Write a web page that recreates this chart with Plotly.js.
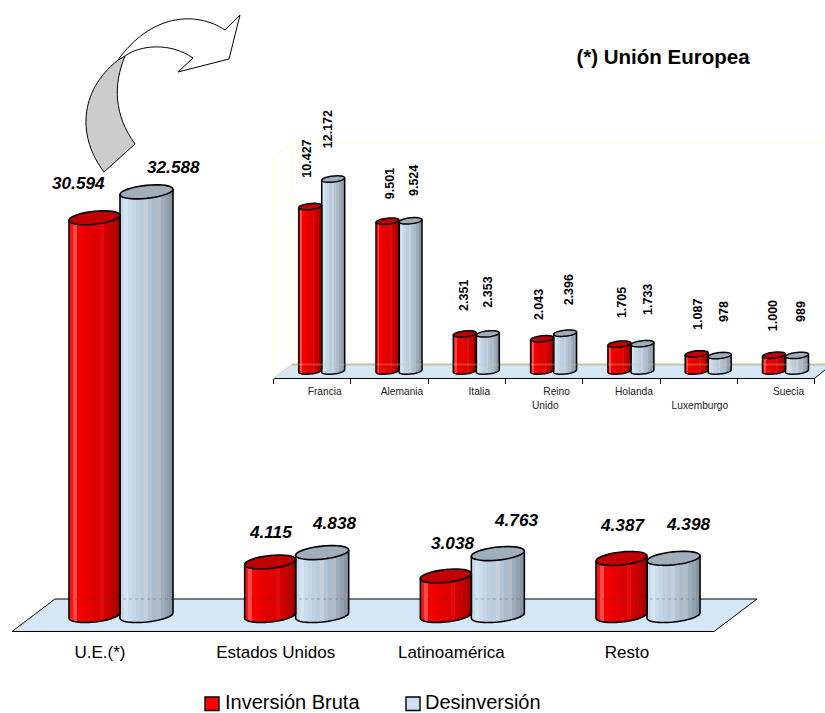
<!DOCTYPE html>
<html><head><meta charset="utf-8">
<script src="https://cdn.plot.ly/plotly-3.0.1.min.js"></script>
<style>html,body{margin:0;padding:0;background:#fff}#chart{width:825px;height:713px}</style>
</head><body><div id="chart"></div>
<script>
// ---- data ----
const regions = ['U.E.(*)','Estados Unidos','Latinoamérica','Resto'];
const regionInversion = [30594,4115,3038,4387];
const regionDesinversion = [32588,4838,4763,4398];
const countries = ['Francia','Alemania','Italia','Reino','Holanda','Luxemburgo','Suecia'];
const countryInversion = [10427,9501,2351,2043,1705,1087,1000];
const countryDesinversion = [12172,9524,2353,2396,1733,978,989];
const seriesNames = ['Inversión Bruta','Desinversión'];
const chartTitle = '(*) Unión Europea';

// ---- appearance ----
const W=825,H=713;
const FONT='"Liberation Sans", Arial, sans-serif';
const redShades=['#ff1010','#ff4a4a','#f60000','#ee0000','#e80000','#e40000','#e00000','#dc0000','#e20a0a','#d00000','#c40000','#b80000','#a80000'];
const blueShades=['#c6daec','#d4e4f2','#cadbeb','#c4d6e6','#bfcfdf','#bccbdb','#c4d2e0','#b4c3d1','#acbbc9','#b0bdc9','#9eacba','#94a2b0','#8896a4'];
const topColors=['#c00000','#a0aebc'];
const SL=redShades.length;

// geometry of the two cylinder groups, in pixels
const mainG={xa:'x',ya:'y',step:175.67,pair0:120.5,base:615.5,slope:0.013,half:[25.5,26.5],ctr:[-26,26],b:6.5,tilt:0.1,lw:1.6,bottom:631.5,left:0,right:825,top:0};
const subG ={xa:'x2',ya:'y2',step:77.3,pair0:321.7,base:371,slope:0.01577,half:[11.5,11.5],ctr:[-11.5,11.5],b:3,tilt:0.1,lw:1.5,bottom:378,left:273.5,right:815,top:100};
for(const g of [mainG,subG]){
  g.xr=[(g.left-g.pair0)/g.step,(g.right-g.pair0)/g.step];
  g.yr=[(g.base-g.bottom)/g.slope,(g.base-g.top)/g.slope];
}
const X=(g,dx)=>dx/g.step;      // px -> axis units
const Y=(g,dy)=>dy/g.slope;

const traces=[],shapes=[],annotations=[];

function ringPts(g,i,s,v,from,to,n){
  const cx=i+X(g,g.ctr[s]),a=g.half[s],pts=[];
  for(let k=0;k<=n;k++){
    const t=from+(to-from)*k/n;
    const dx=a*Math.cos(t);
    const dy=g.b*Math.sin(t)-g.tilt*dx;   // + = downward in px
    pts.push([cx+X(g,dx),v-Y(g,dy)]);
  }
  return pts;
}
const toPath=(pts,close)=>pts.map((p,k)=>(k?'L':'M')+p[0]+','+p[1]).join(' ')+(close?' Z':'');

function addSeries(g,s,values,shades){
  const idx=values.map((_,i)=>i);
  traces.push({type:'bar',name:seriesNames[s],showlegend:false,
    x:idx.map(i=>i+X(g,g.ctr[s])),y:values,xaxis:g.xa,yaxis:g.ya,width:X(g,2*g.half[s]-1),
    marker:{color:s?'#cfe0f0':'#ff0000',line:{width:0}},hoverinfo:'skip'});
  const sw=2*g.half[s]/SL;
  for(let k=0;k<SL;k++){
    const dx=-g.half[s]+(k+.5)*sw;
    const lower=g.b*Math.sqrt(Math.max(0,1-(dx/g.half[s])**2))-g.tilt*dx;
    const upper=g.tilt*dx;
    traces.push({type:'bar',showlegend:false,hoverinfo:'skip',
      x:idx.map(i=>i+X(g,g.ctr[s]+dx)),
      y:values.map(v=>Y(g,upper+lower)+v),
      base:values.map(()=>-Y(g,lower)),
      xaxis:g.xa,yaxis:g.ya,width:X(g,sw+0.5),
      marker:{color:shades[k],line:{width:0}}});
  }
  idx.forEach(i=>{
    const v=values[i];
    const rim=ringPts(g,i,s,0,0,Math.PI,28);
    const cx=i+X(g,g.ctr[s]),a=g.half[s];
    const topR=[cx+X(g,a),v+Y(g,g.tilt*a)],topL=[cx-X(g,a),v-Y(g,g.tilt*a)];
    shapes.push({type:'path',xref:g.xa,yref:g.ya,path:toPath([topR,...rim,topL],false),
      line:{color:'#000',width:g.lw},fillcolor:'rgba(0,0,0,0)'});
    shapes.push({type:'path',xref:g.xa,yref:g.ya,path:toPath(ringPts(g,i,s,v,0,2*Math.PI,40),true),
      line:{color:'#000',width:g.lw},fillcolor:topColors[s]});
  });
}

// value labels: offset from the top of each cylinder, in pixels [dx, dy above]
const mainLabelShift=[
  [[-16.5,35],[0,30],[7,33],[1,33.5]],
  [[27,25],[11.5,29.6],[18.5,33.6],[14.5,34]]];
const subLabelShift=[
  [[-3.5,47.6],[2.5,37],[-0.8,38],[-3,33.8],[2.6,41],[1.3,39],[-1,39]],
  [[-5,50],[3.5,39.8],[0,42],[4,43],[5.6,43.7],[4.3,43.6],[4,43.4]]];
const fmt=v=>{const t=String(v);return t.length>3?t.slice(0,-3)+'.'+t.slice(-3):t;};
function addLabels(g,s,values,shift,font,angle){
  values.forEach((v,i)=>annotations.push({xref:g.xa,yref:g.ya,x:i+X(g,g.ctr[s]),y:v,text:fmt(v),
    showarrow:false,xanchor:'center',yanchor:'middle',xshift:shift[i][0],yshift:shift[i][1],textangle:angle,font}));
}
const mainFont={family:FONT,size:17.2,color:'#000',weight:700,style:'italic'};
const subFont={family:FONT,size:12.5,color:'#000',weight:700};

addSeries(mainG,0,regionInversion,redShades);
addSeries(mainG,1,regionDesinversion,blueShades);
addSeries(subG,0,countryInversion,redShades);
addSeries(subG,1,countryDesinversion,blueShades);
addLabels(mainG,0,regionInversion,mainLabelShift[0],mainFont,0);
addLabels(mainG,1,regionDesinversion,mainLabelShift[1],mainFont,0);
addLabels(subG,0,countryInversion,subLabelShift[0],subFont,-90);
addLabels(subG,1,countryDesinversion,subLabelShift[1],subFont,-90);

// legend key
[[225,'#ff0000',205],[425,'#cfe0f0',406]].forEach(([tx,c,sx],s)=>{
  annotations.push({xref:'paper',yref:'paper',x:tx/W,y:1-701.5/H,xanchor:'left',yanchor:'middle',showarrow:false,xshift:-1,borderpad:0,
    text:seriesNames[s],font:{family:FONT,size:20,color:'#000'}});
  shapes.push({type:'rect',xref:'paper',yref:'paper',x0:sx/W,x1:(sx+14)/W,y0:1-710.5/H,y1:1-697/H,fillcolor:c,line:{color:'#000',width:1.4}});
});

// ---- decoration drawn in page pixels ----
const P=(d)=>d.replace(/(-?[\d.]+) (-?[\d.]+)/g,(m,a,b)=>(a/W)+','+(1-b/H));
const deco=(d,fill,color,width,layer)=>({type:'path',xref:'paper',yref:'paper',path:P(d),fillcolor:fill,
  line:{color,width},layer:layer||'below'});
const under=[
  deco('M12 631.5 L55 599 L757 599 L714 631.5 Z','#d5e6f4','#000',1),
  deco('M292 143 L825 143 M292 143 L292 364 M292 143 L273.5 157 L273.5 378','rgba(0,0,0,0)','#ffffcc',1),
  deco('M273.5 378 L292 364.5 L825 364.5 L825 370 L815 378 Z','#d5e6f4','rgba(0,0,0,0)',0),
  deco('M292 364.5 L825 364.5','rgba(0,0,0,0)','#c4c4a0',2),
  deco('M273.5 378 L292 364.5','rgba(0,0,0,0)','#d8d8b0',1),
  deco('M815 378 L825 370','rgba(0,0,0,0)','#000',1),
];
const over=[
  deco('M104 172 C 78 138 78 92 118 60 L 125 56 C 113 85 114 115 135 144 Z','#cccccc','#000',1,'above'),
  deco('M118 60 C 150 15 195 10 225 30 L 240 15 L 229 59 L 178 72 L 193 58 C 170 42 140 45 125 56 Z','#ffffff','#000',1,'above'),
  deco('M69 599 L173 599 M245 599 L348 599 M421 599 L524 599 M596 599 L699 599','rgba(0,0,0,0)','rgba(60,60,60,0.35)',1,'above'),
  deco('M298 364.5 L345 364.5 M376 364.5 L422 364.5 M453 364.5 L499 364.5 M531 364.5 L577 364.5 M608 364.5 L654 364.5 M686 364.5 L731 364.5 M763 364.5 L809 364.5','rgba(0,0,0,0)','rgba(200,200,160,0.3)',2,'above'),
];
over[2].line.dash='dot';

const pad='\u00a0'; // non-breaking space: nudges a second-row label to the left
const subTickText=['Francia','Alemania','Italia','Reino<br>Unido'+pad.repeat(8),'Holanda','<br>Luxemburgo'+pad.repeat(8),'Suecia'];

const layout={
  width:W,height:H,margin:{l:0,r:0,t:0,b:0,pad:0,autoexpand:false},paper_bgcolor:'#fff',plot_bgcolor:'rgba(0,0,0,0)',
  barmode:'overlay',bargap:0,
  font:{family:FONT,color:'#000'},
  title:{text:chartTitle,x:663/W,y:1-57/H,xref:'paper',yref:'paper',xanchor:'center',yanchor:'middle',
    font:{family:FONT,size:20.5,weight:700,color:'#000'}},
  xaxis:{domain:[0,1],range:mainG.xr,anchor:'y',showgrid:false,zeroline:false,showline:false,
    tickmode:'array',tickvals:regions.map((_,i)=>i-20.5/mainG.step),ticktext:regions,
    ticks:'outside',ticklen:5,tickcolor:'rgba(0,0,0,0)',tickfont:{family:FONT,size:17,color:'#000'}},
  yaxis:{domain:[1-mainG.bottom/H,1],range:mainG.yr,anchor:'x',visible:false},
  xaxis2:{domain:[subG.left/W,subG.right/W],range:subG.xr,anchor:'y2',showgrid:false,zeroline:false,
    showline:true,linecolor:'#000',linewidth:1.2,
    tickmode:'array',tickvals:countries.map((_,i)=>i+3/subG.step),ticktext:subTickText,
    ticks:'outside',ticklen:4,tickcolor:'rgba(0,0,0,0)',tickfont:{family:FONT,size:10.2,color:'#222'},
    minor:{tickmode:'array',tickvals:[0,1,2,3,4,5,6,7].map(i=>i+(273.5-subG.pair0)/subG.step),ticks:'outside',ticklen:5,tickcolor:'#000',tickwidth:1,showgrid:false}},
  yaxis2:{domain:[1-subG.bottom/H,1-subG.top/H],range:subG.yr,anchor:'x2',visible:false},
  showlegend:false,
  shapes:[...under,...shapes,...over],
  annotations
};
Plotly.newPlot('chart',traces,layout,{displayModeBar:false,staticPlot:true});
</script></body></html>
